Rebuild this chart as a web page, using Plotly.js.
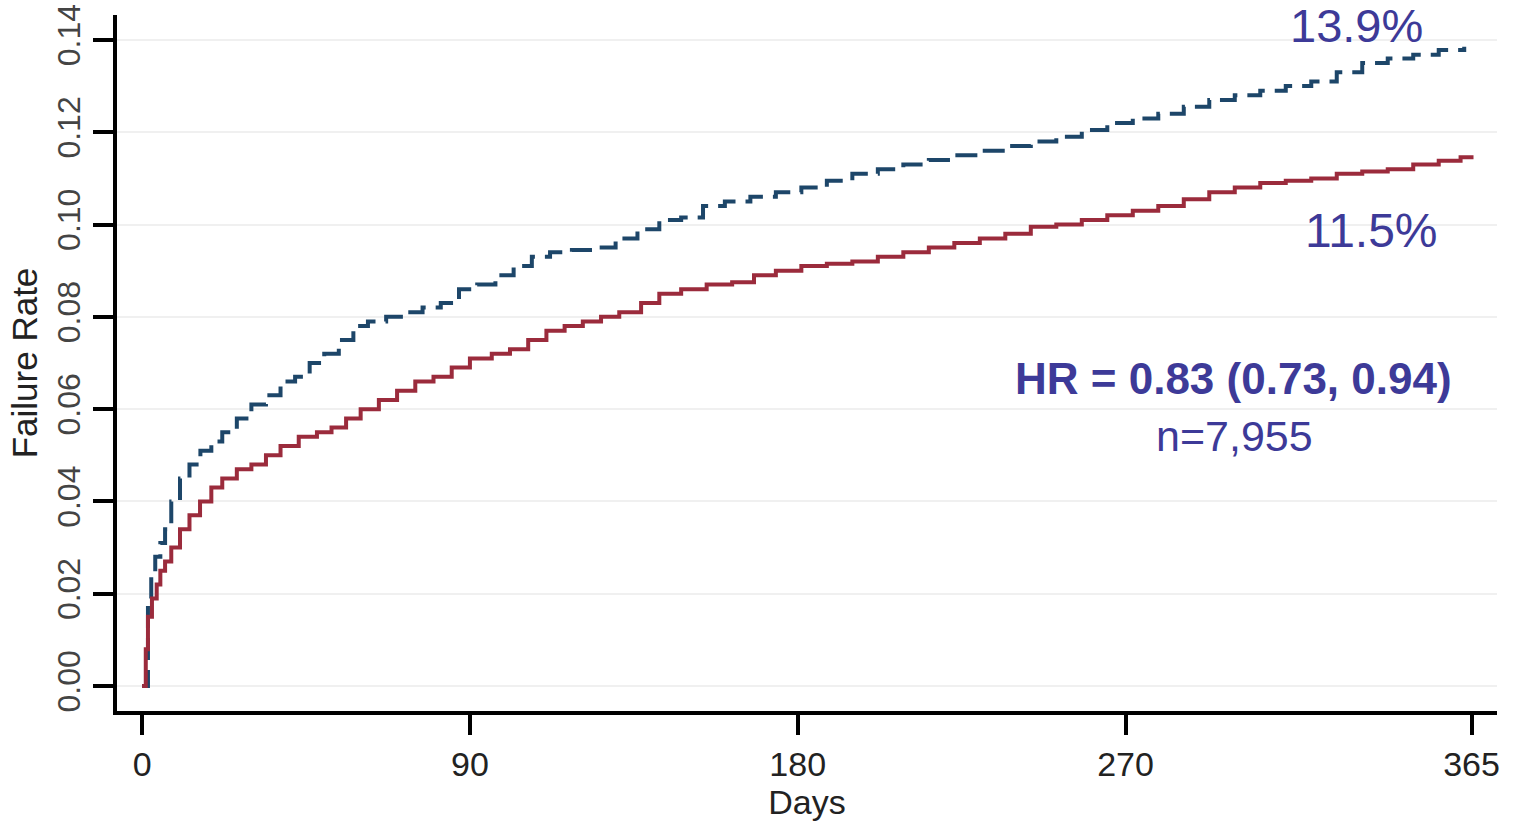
<!DOCTYPE html>
<html>
<head>
<meta charset="utf-8">
<script src="https://cdn.plot.ly/plotly-3.0.1.min.js"></script>
<style>html,body{margin:0;padding:0;background:#fff;}#chart{width:1518px;height:823px;}</style>
</head>
<body>
<div id="chart"></div>
<script>
// Control group (blue dashed)
const blueDays = [0, 1.6, 2.5, 3.6, 5, 6.3, 8, 10.4, 13, 16, 19, 22, 26, 30, 34, 38, 42, 46, 50, 54, 58, 62, 67, 72, 77, 82, 87, 92, 97, 102, 107, 112, 118, 124, 130, 136, 142, 148, 154, 160, 167, 174, 181, 188, 195, 202, 209, 216, 223, 230, 237, 244, 251, 258, 265, 272, 279, 286, 293, 300, 307, 314, 321, 328, 335, 342, 349, 356, 363];
const blueRate = [0, 0.019, 0.024, 0.028, 0.031, 0.034, 0.040, 0.045, 0.048, 0.051, 0.053, 0.055, 0.058, 0.061, 0.063, 0.066, 0.067, 0.070, 0.072, 0.075, 0.078, 0.079, 0.080, 0.081, 0.082, 0.083, 0.086, 0.087, 0.089, 0.091, 0.093, 0.094, 0.0945, 0.095, 0.097, 0.099, 0.101, 0.1015, 0.104, 0.105, 0.106, 0.107, 0.108, 0.1095, 0.111, 0.112, 0.113, 0.114, 0.115, 0.116, 0.117, 0.118, 0.119, 0.1205, 0.122, 0.123, 0.124, 0.1255, 0.127, 0.128, 0.129, 0.130, 0.131, 0.133, 0.135, 0.136, 0.1368, 0.1378, 0.1385];
// Treatment group (red solid)
const redDays = [0, 1, 1.6, 2.7, 4, 5, 6.3, 8, 10.4, 13, 15.9, 19, 22, 26, 30, 34, 38, 43, 48, 52, 56, 60, 65, 70, 75, 80, 85, 90, 96, 101, 106, 111, 116, 121, 126, 131, 137, 142, 148, 155, 162, 168, 174, 181, 188, 195, 202, 209, 216, 223, 230, 237, 244, 251, 258, 265, 272, 279, 286, 293, 300, 307, 314, 321, 328, 335, 342, 349, 356, 362, 365];
const redRate = [0, 0.008, 0.015, 0.019, 0.022, 0.025, 0.027, 0.030, 0.034, 0.037, 0.040, 0.043, 0.045, 0.047, 0.048, 0.050, 0.052, 0.054, 0.055, 0.056, 0.058, 0.060, 0.062, 0.064, 0.066, 0.067, 0.069, 0.071, 0.072, 0.073, 0.075, 0.077, 0.078, 0.079, 0.080, 0.081, 0.083, 0.085, 0.086, 0.087, 0.0875, 0.089, 0.090, 0.091, 0.0915, 0.092, 0.093, 0.094, 0.095, 0.096, 0.097, 0.098, 0.0995, 0.100, 0.101, 0.102, 0.103, 0.104, 0.1055, 0.107, 0.108, 0.109, 0.1095, 0.110, 0.111, 0.1115, 0.112, 0.113, 0.1138, 0.1146, 0.115];

const xTickVals = [0, 90, 180, 270, 365];
const xTickText = ["0", "90", "180", "270", "365"];
const yTickVals = [0, 0.02, 0.04, 0.06, 0.08, 0.10, 0.12, 0.14];
const yTickText = ["0.00", "0.02", "0.04", "0.06", "0.08", "0.10", "0.12", "0.14"];

const blueEndLabel = "13.9%";
const redEndLabel = "11.5%";
const hrLabel = "HR = 0.83 (0.73, 0.94)";
const nLabel = "n=7,955";

const FONT = "Liberation Sans, Arial, Helvetica, sans-serif";
const ANN = "#3d3a98";

const traces = [
  {x: blueDays, y: blueRate, type: "scatter", mode: "lines", name: "Control",
   line: {shape: "hv", color: "#1d4669", width: 4, dash: "22px,10px"}},
  {x: redDays, y: redRate, type: "scatter", mode: "lines", name: "Treatment",
   line: {shape: "hv", color: "#9b2b3c", width: 4}}
];

const W = 1380, H = 696;
function px(x){ return (x - 117) / W; }
function py(y){ return (711 - y) / H; }

const layout = {
  width: 1518, height: 823,
  margin: {l: 117, r: 21, t: 15, b: 112},
  paper_bgcolor: "#ffffff", plot_bgcolor: "#ffffff",
  showlegend: false,
  font: {family: FONT, color: "#222"},
  xaxis: {
    range: [-6.9, 372], tickvals: xTickVals, ticktext: xTickText,
    ticks: "outside", ticklen: 20, tickwidth: 4, tickcolor: "#000",
    showline: true, linecolor: "#000", linewidth: 4, showgrid: false, zeroline: false,
    tickfont: {size: 34, color: "#222", family: FONT},
    title: {text: "Days", font: {size: 34, color: "#222", family: FONT}, standoff: 0}
  },
  yaxis: {
    range: [-0.0054, 0.1454], tickvals: yTickVals, ticktext: yTickText,
    ticks: "outside", ticklen: 20, tickwidth: 4, tickcolor: "#000", tickangle: -90,
    showline: true, linecolor: "#000", linewidth: 4,
    showgrid: true, gridcolor: "#f0f0f0", gridwidth: 2, zeroline: false,
    tickfont: {size: 32, color: "#444", family: FONT},
    title: {text: "Failure Rate", font: {size: 35, color: "#222", family: FONT}, standoff: 4}
  },
  annotations: [
    {xref: "paper", yref: "paper", x: px(1356), y: py(25), text: blueEndLabel, showarrow: false,
     xanchor: "center", yanchor: "middle", font: {size: 47, color: ANN, family: FONT}},
    {xref: "paper", yref: "paper", x: px(1371), y: py(231), text: redEndLabel, showarrow: false,
     xanchor: "center", yanchor: "middle", font: {size: 48, color: ANN, family: FONT}},
    {xref: "paper", yref: "paper", x: px(1233), y: py(378), text: "<b>" + hrLabel + "</b>", showarrow: false,
     xanchor: "center", yanchor: "middle", font: {size: 44, color: ANN, family: FONT}},
    {xref: "paper", yref: "paper", x: px(1234), y: py(436), text: nLabel, showarrow: false,
     xanchor: "center", yanchor: "middle", font: {size: 43, color: ANN, family: FONT}}
  ]
};

Plotly.newPlot("chart", traces, layout, {displayModeBar: false, staticPlot: true});
</script>
</body>
</html>
